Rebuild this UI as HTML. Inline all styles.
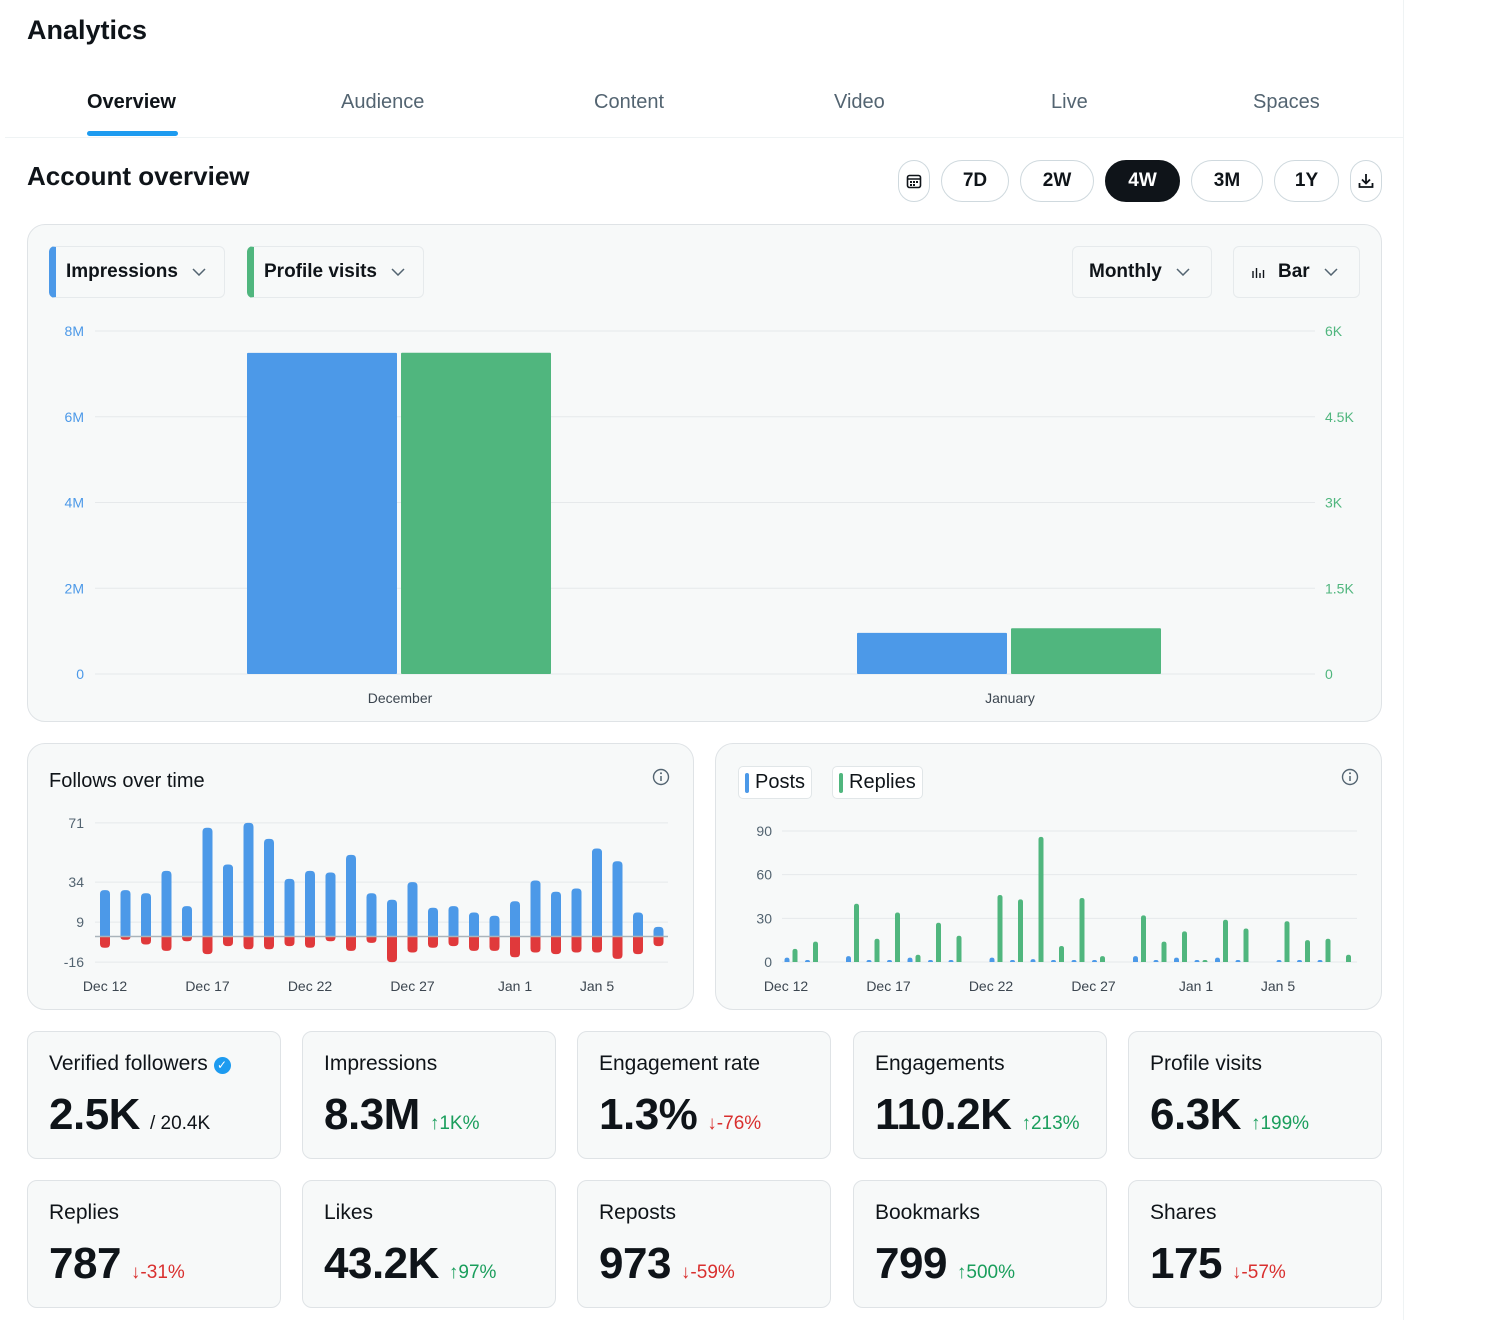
<!DOCTYPE html>
<html><head><meta charset="utf-8">
<style>
*{box-sizing:border-box;margin:0;padding:0}
body{width:1504px;height:1320px;background:#fff;font-family:"Liberation Sans",Arial,sans-serif;color:#0f1419;position:relative;overflow:hidden}
.abs{position:absolute}
.main{position:absolute;left:0;top:0;width:1404px;height:1320px;border-right:1px solid #eff3f4;background:#fff}
.tab{position:absolute;top:90px;font-size:20px;color:#536471;font-weight:500}
.pill{position:absolute;top:160px;height:42px;border:1px solid #cfd9de;border-radius:21px;font-weight:bold;font-size:19px;display:flex;align-items:center;justify-content:center;background:#fff}
.panel{position:absolute;background:#f7f9f9;border:1px solid #dfe3e6;border-radius:18px}
.dd{position:absolute;height:52px;border:1px solid #e6eaec;border-radius:6px;background:#f7f9f9;font-weight:bold;font-size:19px;display:flex;align-items:center}
.chev{margin-left:14px}
.card{position:absolute;width:254px;height:128px;background:#f7f9f9;border:1px solid #dfe3e6;border-radius:10px}
.card .t{position:absolute;left:21px;top:20px;font-size:21px;color:#0f1419}
.card .v{position:absolute;left:21px;top:58px;font-size:44px;font-weight:bold;letter-spacing:-0.5px}
.card .d{font-size:19px;font-weight:normal;margin-left:10px;letter-spacing:0}
.up{color:#1a9e5c}.dn{color:#d9302f}
svg text{font-family:"Liberation Sans",Arial,sans-serif}
</style></head><body>
<div class="main">
<div class="abs" style="left:27px;top:15px;font-size:27px;font-weight:bold">Analytics</div>
<div class="tab" style="left:87px;top:91px;color:#0f1419;font-weight:bold">Overview</div>
<div class="abs" style="left:87px;top:131px;width:91px;height:5px;border-radius:3px;background:#1d9bf0"></div>
<div class="tab" style="left:341px;top:91px">Audience</div>
<div class="tab" style="left:594px;top:91px">Content</div>
<div class="tab" style="left:834px;top:91px">Video</div>
<div class="tab" style="left:1051px;top:91px">Live</div>
<div class="tab" style="left:1253px;top:91px">Spaces</div>
<div class="abs" style="left:5px;top:137px;width:1398px;height:1px;background:#eff3f4"></div>
<div class="abs" style="left:27px;top:161px;font-size:26px;font-weight:bold">Account overview</div>

<div class="pill" style="left:898px;width:32px"><svg width="16" height="16" viewBox="0 0 16 16"><rect x="1.5" y="2.5" width="13" height="12" rx="2" fill="none" stroke="#0f1419" stroke-width="1.6"/><line x1="1.5" y1="6" x2="14.5" y2="6" stroke="#0f1419" stroke-width="1.5"/><rect x="4" y="8" width="2" height="2" fill="#0f1419"/><rect x="7" y="8" width="2" height="2" fill="#0f1419"/><rect x="10" y="8" width="2" height="2" fill="#0f1419"/><rect x="4" y="11" width="2" height="2" fill="#0f1419"/><rect x="7" y="11" width="2" height="2" fill="#0f1419"/></svg></div>
<div class="pill" style="left:941px;width:68px">7D</div>
<div class="pill" style="left:1020px;width:74px">2W</div>
<div class="pill" style="left:1105px;width:75px;background:#0f1419;color:#fff;border-color:#0f1419">4W</div>
<div class="pill" style="left:1191px;width:72px">3M</div>
<div class="pill" style="left:1274px;width:65px">1Y</div>
<div class="pill" style="left:1350px;width:32px"><svg width="18" height="18" viewBox="0 0 18 18"><path d="M9 2v9M5 7.5l4 4 4-4M2.5 11v4h13v-4" fill="none" stroke="#0f1419" stroke-width="1.8"/></svg></div>

<div class="panel" style="left:27px;top:224px;width:1355px;height:498px">
<div class="dd" style="left:21px;top:21px;width:176px;border-left:7px solid #4c99e8"><span style="margin-left:10px">Impressions</span><svg class="chev" width="14" height="8" viewBox="0 0 14 8"><path d="M1 1l6 6 6-6" fill="none" stroke="#536471" stroke-width="1.5"/></svg></div>
<div class="dd" style="left:219px;top:21px;width:177px;border-left:7px solid #50b67e"><span style="margin-left:10px">Profile visits</span><svg class="chev" width="14" height="8" viewBox="0 0 14 8"><path d="M1 1l6 6 6-6" fill="none" stroke="#536471" stroke-width="1.5"/></svg></div>
<div class="dd" style="left:1044px;top:21px;width:140px"><span style="margin-left:16px">Monthly</span><svg class="chev" width="14" height="8" viewBox="0 0 14 8"><path d="M1 1l6 6 6-6" fill="none" stroke="#536471" stroke-width="1.5"/></svg></div>
<div class="dd" style="left:1205px;top:21px;width:127px"><svg style="margin-left:18px" width="14" height="12" viewBox="0 0 14 12"><path d="M1 12V5M4.5 12V2M8 12V7M11.5 12V4" stroke="#0f1419" stroke-width="1.4"/></svg><span style="margin-left:12px">Bar</span><svg class="chev" width="14" height="8" viewBox="0 0 14 8"><path d="M1 1l6 6 6-6" fill="none" stroke="#536471" stroke-width="1.5"/></svg></div>
</div>
<svg id="mainChart" class="abs" style="left:0;top:0" width="1404" height="730"></svg>

<div class="panel" style="left:27px;top:743px;width:667px;height:267px">
<div class="abs" style="left:21px;top:26px;font-size:20px">Follows over time</div>
<svg class="abs" style="left:624px;top:24px" width="18" height="18"><circle cx="9" cy="9" r="7.5" fill="none" stroke="#536471" stroke-width="1.4"/><line x1="9" y1="8" x2="9" y2="13" stroke="#536471" stroke-width="1.5"/><circle cx="9" cy="5.3" r="1" fill="#536471"/></svg>
</div>
<svg id="followChart" class="abs" style="left:0;top:0" width="700" height="1010"></svg>

<div class="panel" style="left:715px;top:743px;width:667px;height:267px">
<div class="abs" style="left:22px;top:22px;height:33px;padding:0 6px 0 6px;border:1px solid #e1e6e8;border-radius:5px;background:#fff;font-size:20px;display:flex;align-items:center"><span style="width:4px;height:20px;background:#4c99e8;margin-right:6px;border-radius:2px"></span>Posts</div>
<div class="abs" style="left:116px;top:22px;height:33px;padding:0 6px 0 6px;border:1px solid #e1e6e8;border-radius:5px;background:#fff;font-size:20px;display:flex;align-items:center"><span style="width:4px;height:20px;background:#50b67e;margin-right:6px;border-radius:2px"></span>Replies</div>
<svg class="abs" style="left:625px;top:24px" width="18" height="18"><circle cx="9" cy="9" r="7.5" fill="none" stroke="#536471" stroke-width="1.4"/><line x1="9" y1="8" x2="9" y2="13" stroke="#536471" stroke-width="1.5"/><circle cx="9" cy="5.3" r="1" fill="#536471"/></svg>
</div>
<svg id="postChart" class="abs" style="left:0;top:0" width="1404" height="1010"></svg>

<div class="card" style="left:27px;top:1031px"><div class="t">Verified followers <span style="display:inline-block;width:17px;height:17px;border-radius:50%;background:#1d9bf0;color:#fff;font-size:12px;text-align:center;line-height:17px;vertical-align:1px">&#10003;</span></div><div class="v">2.5K<span class="d" style="color:#0f1419">/ 20.4K</span></div></div>
<div class="card" style="left:302px;top:1031px"><div class="t">Impressions</div><div class="v">8.3M<span class="d up">&#8593;1K%</span></div></div>
<div class="card" style="left:577px;top:1031px"><div class="t">Engagement rate</div><div class="v">1.3%<span class="d dn">&#8595;-76%</span></div></div>
<div class="card" style="left:853px;top:1031px"><div class="t">Engagements</div><div class="v">110.2K<span class="d up">&#8593;213%</span></div></div>
<div class="card" style="left:1128px;top:1031px"><div class="t">Profile visits</div><div class="v">6.3K<span class="d up">&#8593;199%</span></div></div>
<div class="card" style="left:27px;top:1180px"><div class="t">Replies</div><div class="v">787<span class="d dn">&#8595;-31%</span></div></div>
<div class="card" style="left:302px;top:1180px"><div class="t">Likes</div><div class="v">43.2K<span class="d up">&#8593;97%</span></div></div>
<div class="card" style="left:577px;top:1180px"><div class="t">Reposts</div><div class="v">973<span class="d dn">&#8595;-59%</span></div></div>
<div class="card" style="left:853px;top:1180px"><div class="t">Bookmarks</div><div class="v">799<span class="d up">&#8593;500%</span></div></div>
<div class="card" style="left:1128px;top:1180px"><div class="t">Shares</div><div class="v">175<span class="d dn">&#8595;-57%</span></div></div>
</div>

<script>
// Main chart data
const months = ["December","January"];
const impressions = [7.49,0.96]; // millions
const profileVisits = [5.62,0.8]; // thousands
const leftTicks = [0,2,4,6,8];
const leftTickLabels = ["0","2M","4M","6M","8M"];
const rightTickLabels = ["0","1.5K","3K","4.5K","6K"];

// Follows data
const followDays = ["Dec 12","Dec 17","Dec 22","Dec 27","Jan 1","Jan 5"];
const followDayIdx = [0,5,10,15,20,24];
const follows = [29,29,27,41,19,68,45,71,61,36,41,40,51,27,23,34,18,19,15,13,22,35,28,30,55,47,15,6];
const unfollows = [-7,-2,-5,-9,-3,-11,-6,-8,-8,-6,-7,-3,-9,-4,-16,-10,-7,-6,-9,-9,-13,-10,-11,-10,-10,-14,-11,-6];
const followTicks = [-16,9,34,71];

// Posts/replies data
const posts = [3,1,0,4,1,1,3,1,1,0,3,1,2,0.5,1,0.5,0,4,1,3,0.5,3,0.5,0,1,0.5,1,0];
const replies = [9,14,0,40,16,34,5,27,18,0,46,43,86,11,44,4,0,32,14,21,1,29,23,0,28,15,16,5];
const postTicks = [0,30,60,90];

const NS="http://www.w3.org/2000/svg";
function mk(svg,tag,attrs,text){const e=document.createElementNS(NS,tag);for(const k in attrs)e.setAttribute(k,attrs[k]);if(text!==undefined)e.textContent=text;svg.appendChild(e);return e;}
function rbar(x,w,y0,y1,r,up){
  const top=Math.min(y0,y1),h=Math.abs(y1-y0);r=Math.min(r,h,w/2);
  if(up) return `M${x},${y0}V${top+r}Q${x},${top} ${x+r},${top}H${x+w-r}Q${x+w},${top} ${x+w},${top+r}V${y0}Z`;
  const b=top+h;return `M${x},${y0}V${b-r}Q${x},${b} ${x+r},${b}H${x+w-r}Q${x+w},${b} ${x+w},${b-r}V${y0}Z`;
}

(function(){
  const s=document.getElementById('mainChart');
  const yL=v=>674-v*(343/8), yR=v=>674-v*(343/6);
  const x0=95,x1=1315,band=(x1-x0)/months.length;
  leftTicks.forEach((t,i)=>{
    const y=yL(t);
    const g=mk(s,'line',{x1:x0,x2:x1,y1:y,y2:y,stroke:'#e6e9eb','stroke-width':1});
    
    const a=mk(s,'text',{x:84,y:y+5,'text-anchor':'end','font-size':14,fill:'#4c99e8'},leftTickLabels[i]);
    
    const b=mk(s,'text',{x:1325,y:y+5,'font-size':14,fill:'#50b67e'},rightTickLabels[i]);
    
  });
  months.forEach((m,i)=>{
    const c=x0+band*(i+0.5);
    const b1=mk(s,'rect',{x:c-153,y:yL(impressions[i]),width:150,height:674-yL(impressions[i]),fill:'#4c99e8',rx:1});
    
    const b2=mk(s,'rect',{x:c+1,y:yR(profileVisits[i]),width:150,height:674-yR(profileVisits[i]),fill:'#50b67e',rx:1});
    
    const l=mk(s,'text',{x:c,y:703,'text-anchor':'middle','font-size':14,fill:'#3c4650'},m);
    
  });
})();

(function(){
  const s=document.getElementById('followChart');
  const y=v=>936.5-v*1.6, x=i=>105+i*20.5;
  followTicks.forEach(t=>{
    const g=mk(s,'line',{x1:95,x2:668,y1:y(t),y2:y(t),stroke:'#e6e9eb'});
    
    const l=mk(s,'text',{x:84,y:y(t)+5,'text-anchor':'end','font-size':14,fill:'#536471'},String(t));
    
  });
  follows.forEach((v,i)=>{
    const p=mk(s,'path',{d:rbar(x(i)-5,10,y(0),y(v),4,true),fill:'#4c99e8'});
    
    const q=mk(s,'path',{d:rbar(x(i)-5,10,y(0),y(unfollows[i]),4,false),fill:'#e0393b'});
    
  });
  const z=mk(s,'line',{x1:95,x2:668,y1:y(0),y2:y(0),stroke:'#aab4bb','stroke-width':1.5});
  
  followDays.forEach((d,k)=>{
    const l=mk(s,'text',{x:x(followDayIdx[k]),y:991,'text-anchor':'middle','font-size':14,fill:'#3c4650'},d);
    
  });
})();

(function(){
  const s=document.getElementById('postChart');
  const y=v=>962-v*(131/90), x=i=>791+i*20.5;
  postTicks.forEach(t=>{
    const g=mk(s,'line',{x1:782,x2:1357,y1:y(t),y2:y(t),stroke:'#e6e9eb'});
    
    const l=mk(s,'text',{x:772,y:y(t)+5,'text-anchor':'end','font-size':14,fill:'#536471'},String(t));
    
  });
  posts.forEach((v,i)=>{
    if(v>0){const p=mk(s,'path',{d:rbar(x(i)-6.5,5,y(0),Math.min(y(v),y(0)-2),2.5,true),fill:'#4c99e8'});
    }
    if(replies[i]>0){const q=mk(s,'path',{d:rbar(x(i)+1.5,5,y(0),Math.min(y(replies[i]),y(0)-2),2.5,true),fill:'#50b67e'});
    }
  });
  followDays.forEach((d,k)=>{
    const l=mk(s,'text',{x:786+followDayIdx[k]*20.5,y:991,'text-anchor':'middle','font-size':14,fill:'#3c4650'},d);
    
  });
})();
</script>
</body></html>
